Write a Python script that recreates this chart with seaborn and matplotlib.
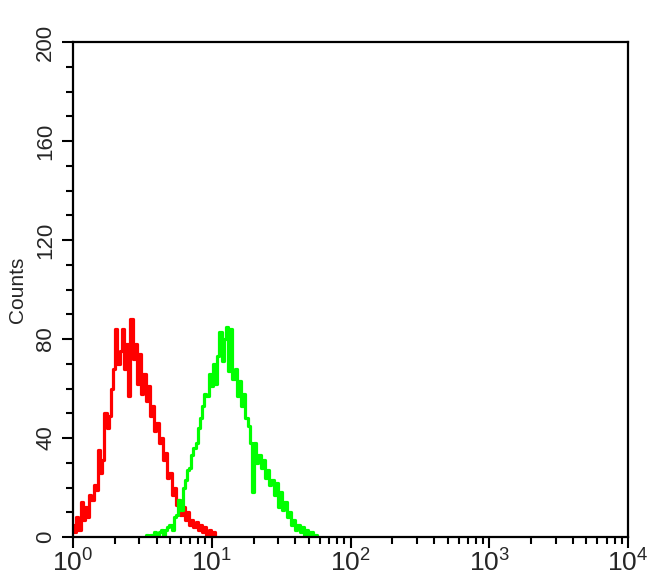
import numpy as np
import pandas as pd
import seaborn as sns
import matplotlib.pyplot as plt
from matplotlib.ticker import MultipleLocator, LogLocator, NullFormatter

# channel counts (64 channels per decade)
channels_per_decade = 64
red_first_channel = 0
red_counts = [5, 2, 8, 3, 14, 7, 12, 8, 17, 15, 21, 19, 35, 26, 31, 50, 44, 49, 60, 68,
              84, 70, 75, 84, 68, 78, 57, 88, 72, 78, 62, 74, 58, 66, 55, 61, 49, 53, 43, 46,
              38, 40, 31, 34, 24, 26, 17, 20, 13, 15, 9, 12, 7, 10, 5, 7, 4, 6, 3, 5,
              2, 4, 1, 3, 1, 2, 0]
green_first_channel = 33
green_counts = [0, 1, 0, 1, 1, 2, 0, 2, 3, 1, 3, 4, 5, 3, 8, 9, 15, 11, 20, 23,
                27, 28, 33, 36, 38, 44, 48, 53, 58, 57, 66, 61, 70, 62, 73, 83, 71, 80, 85, 67,
                84, 64, 68, 57, 63, 53, 58, 48, 45, 38, 18, 38, 30, 33, 28, 31, 24, 27, 21, 23,
                17, 22, 12, 18, 11, 14, 8, 10, 5, 7, 3, 5, 2, 4, 1, 3, 1, 2, 0, 1, 0]

y_ticks = [0, 40, 80, 120, 160, 200]
x_ticks = [1, 10, 100, 1000, 10000]
x_tick_labels = [r'$\mathregular{10^{0}}$', r'$\mathregular{10^{1}}$', r'$\mathregular{10^{2}}$',
                 r'$\mathregular{10^{3}}$', r'$\mathregular{10^{4}}$']


def to_frame(first, counts):
    ch = np.arange(first, first + len(counts))
    return pd.DataFrame({'fl': 10 ** (ch / channels_per_decade), 'count': counts})


red = to_frame(red_first_channel, red_counts)
green = to_frame(green_first_channel, green_counts)

sns.set_style('ticks')
plt.rcParams['font.family'] = ['Liberation Sans', 'DejaVu Sans']

fig = plt.figure(figsize=(6.5, 5.85), dpi=100)
ax = fig.add_axes([0.1123, 0.082, 0.854, 0.846])

sns.lineplot(data=red, x='fl', y='count', color='#ff0000', linewidth=2.3,
             drawstyle='steps-mid', ax=ax)
sns.lineplot(data=green, x='fl', y='count', color='#00ff00', linewidth=2.3,
             drawstyle='steps-mid', ax=ax)

ax.set_xscale('log')
ax.set_xlim(1, 10000)
ax.set_ylim(0, 200)
ax.set_xticks(x_ticks)
ax.set_xticklabels(x_tick_labels, fontsize=19)
ax.xaxis.set_minor_locator(LogLocator(base=10, subs=np.arange(2, 10)))
ax.xaxis.set_minor_formatter(NullFormatter())
ax.set_yticks(y_ticks)
ax.set_yticklabels([str(v) for v in y_ticks], fontsize=16, rotation=90, va='center')
ax.yaxis.set_minor_locator(MultipleLocator(10))

ax.tick_params(which='major', length=8, width=1.5, color='black', pad=3)
ax.tick_params(which='minor', length=5, width=1.5, color='black')
ax.tick_params(axis='y', pad=4)
ax.tick_params(axis='x', pad=1)
for s in ax.spines.values():
    s.set_visible(True)
    s.set_color('black')
    s.set_linewidth(1.6)

ax.set_xlabel('')
ax.set_ylabel('Counts', fontsize=15, labelpad=6)

plt.savefig('out.png')
plt.close()
